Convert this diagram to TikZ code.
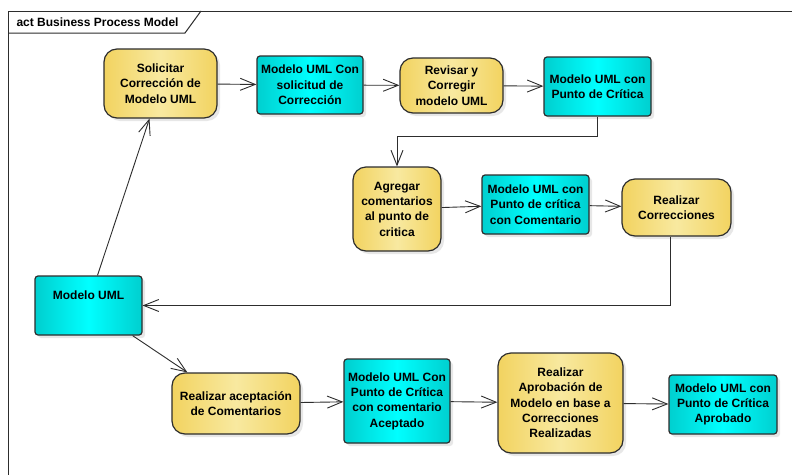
\documentclass[tikz,border=0pt]{standalone}
\usepackage{fontspec}
\setmainfont{Liberation Sans}
\usetikzlibrary{arrows, arrows.meta, shadows}

\definecolor{actgold}{RGB}{242,211,96}
\definecolor{actpale}{RGB}{248,233,160}
\definecolor{objcyan}{RGB}{0,207,207}
\definecolor{objbright}{RGB}{0,255,255}
\definecolor{edgegray}{RGB}{45,45,45}

\tikzset{
  txt/.style={font=\bfseries\fontsize{12}{15.3}\selectfont, align=center, text=black},
  action/.style={txt, draw=edgegray, line width=1.2pt, rounded corners=13pt, inner sep=2pt,
    left color=actgold, right color=actgold, middle color=actpale,
    drop shadow={shadow xshift=3pt, shadow yshift=-3pt, fill=black!18}},
  object/.style={txt, draw=edgegray, line width=1.2pt, rounded corners=3pt, inner sep=2pt,
    left color=objcyan, right color=objcyan, middle color=objbright,
    drop shadow={shadow xshift=3pt, shadow yshift=-3pt, fill=black!18}},
  flow/.style={draw=edgegray, line width=0.9pt, -{Straight Barb[length=15pt,width=12pt]}},
}

\begin{document}
\begin{tikzpicture}[x=1pt, y=-1pt]
\clip (0,0) rectangle (792,474);
\fill[white] (0,0) rectangle (792,474);

%frame and title tab
\draw[edgegray, line width=1pt] (8,480) |- (800,11);
\draw[edgegray, line width=1pt] (8,33) -- (185,33) -- (201,11);
\node[txt, anchor=west] (ttl) at (13,22) {act Business Process Model};

%upper row
\node[action, minimum width=113pt, minimum height=69pt] (sol) at (160.5,83.5) {Solicitar\\Corrección de\\Modelo UML};
\node[object, minimum width=106pt, minimum height=58pt] (mcs) at (310,85) {Modelo UML Con\\solicitud de\\Corrección};
\node[action, minimum width=103pt, minimum height=55pt] (rev) at (451.5,85.5) {Revisar y\\Corregir\\modelo UML};
\node[object, minimum width=107pt, minimum height=59pt] (mpc) at (597.5,86.5) {Modelo UML con\\Punto de Crítica};

%middle row
\node[action, minimum width=88pt, minimum height=84pt] (agr) at (397,209) {Agregar\\comentarios\\al punto de\\critica};
\node[object, minimum width=107pt, minimum height=59pt] (mcc) at (535.5,204.5) {Modelo UML con\\Punto de crítica\\con Comentario};
\node[action, minimum width=109pt, minimum height=57pt] (rc) at (676.5,207.5) {Realizar\\Correcciones};

%start object
\node[object, minimum width=107pt, minimum height=59pt,
  label={[txt, anchor=north, yshift=-12pt]north:Modelo UML}] (mu) at (88.5,305.5) {};

%lower row
\node[action, minimum width=128pt, minimum height=61pt] (rac) at (236,403.5) {Realizar aceptación\\de Comentarios};
\node[object, minimum width=106pt, minimum height=84pt] (mca) at (397,401) {Modelo UML Con\\Punto de Crítica\\con comentario\\Aceptado};
\node[action, minimum width=125pt, minimum height=100pt] (rap) at (560.5,403) {Realizar\\Aprobación de\\Modelo en base a\\Correcciones\\Realizadas};
\node[object, minimum width=108pt, minimum height=59pt] (apr) at (723,404.5) {Modelo UML con\\Punto de Crítica\\Aprobado};

%flows
\draw[flow] (sol) -- (mcs);
\draw[flow] (mcs) -- (rev);
\draw[flow] (rev) -- (mpc);
\draw[flow] (mpc.south) -- ++(0,20) -| (agr.north);
\draw[flow] (agr) -- (mcc);
\draw[flow] (mcc) -- (rc);
\draw[flow] ([xshift=-6.5pt]rc.south) |- (mu.east);
\draw[flow] ([xshift=9pt]mu.north) -- ([xshift=-11pt]sol.south);
\draw[flow] ([xshift=-10pt]mu.south east) -- ([xshift=16pt]rac.north west);
\draw[flow] (rac) -- (mca);
\draw[flow] (mca) -- (rap);
\draw[flow] (rap) -- (apr);

\end{tikzpicture}
\end{document}
